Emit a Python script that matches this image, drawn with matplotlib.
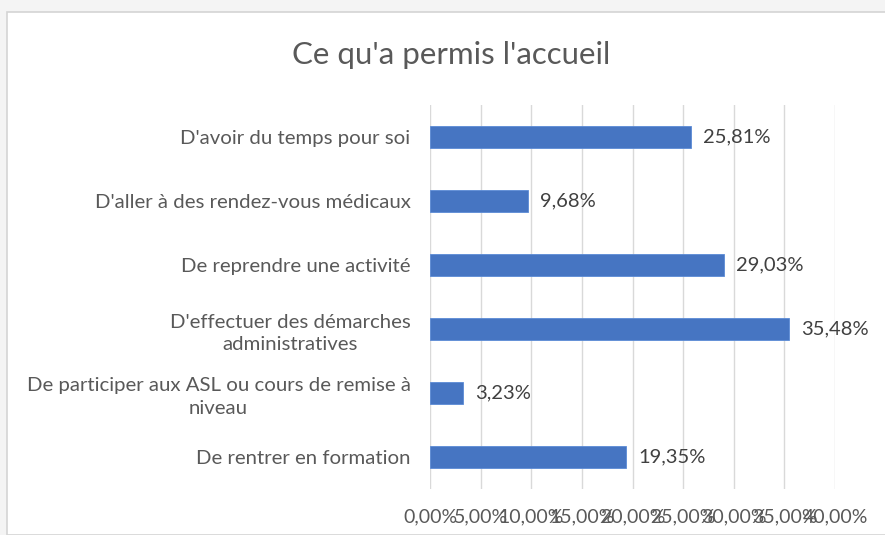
import matplotlib.pyplot as plt
from matplotlib.patches import Rectangle
from matplotlib.ticker import MultipleLocator, FuncFormatter

# données (de haut en bas)
categories = [
    "D'avoir du temps pour soi",
    "D'aller à des rendez-vous médicaux",
    "De reprendre une activité",
    "D'effectuer des démarches\nadministratives",
    "De participer aux ASL ou cours de remise à\nniveau",
    "De rentrer en formation",
]
valeurs = [25.81, 9.68, 29.03, 35.48, 3.23, 19.35]
etiquettes = ["25,81%", "9,68%", "29,03%", "35,48%", "3,23%", "19,35%"]

plt.rcParams['font.family'] = ['Lato', 'DejaVu Sans']

fig = plt.figure(figsize=(8.85, 5.35), dpi=100, facecolor="#f4f4f4")
# cadre blanc du graphique
fig.patches.append(Rectangle((7/885, 0), 1.0, 1 - 12/535, transform=fig.transFigure,
                             facecolor="white", edgecolor="#d4d4d4", linewidth=1.2, zorder=-5))

ax = fig.add_axes([430/885, 1 - 489/535, 405/885, 384/535])
ax.set_facecolor("none")

pos = list(range(len(categories)))
ax.barh(pos, valeurs, height=0.33, color="#4675c2", edgecolor="#5b8bd6", linewidth=0.6, zorder=3)

for p, v, t in zip(pos, valeurs, etiquettes):
    ax.text(v + 1.2, p, t, va="center", ha="left", fontsize=14.5, color="#404040")

ax.set_xlim(0, 40)
ax.set_ylim(len(categories) - 0.5, -0.5)
ax.xaxis.set_major_locator(MultipleLocator(5))
ax.xaxis.set_major_formatter(FuncFormatter(lambda x, _: f"{x:.2f}%".replace(".", ",")))
ax.grid(axis="x", color="#d9d9d9", linewidth=1, zorder=0)

ax.set_yticks(pos)
ax.set_yticklabels(categories, multialignment="center", linespacing=1.4)
ax.tick_params(axis="y", length=0, pad=14, labelsize=14.7, labelcolor="#595959")
# les étiquettes de l'axe x se chevauchent comme dans l'original
ax.tick_params(axis="x", length=0, pad=14, labelsize=14, labelcolor="#595959")

for s in ax.spines.values():
    s.set_visible(False)

fig.text(451/885, 1 - 55/535, "Ce qu'a permis l'accueil", ha="center", va="center",
         fontsize=22.5, color="#595959")

fig.savefig("out.png", dpi=100, facecolor=fig.get_facecolor())
